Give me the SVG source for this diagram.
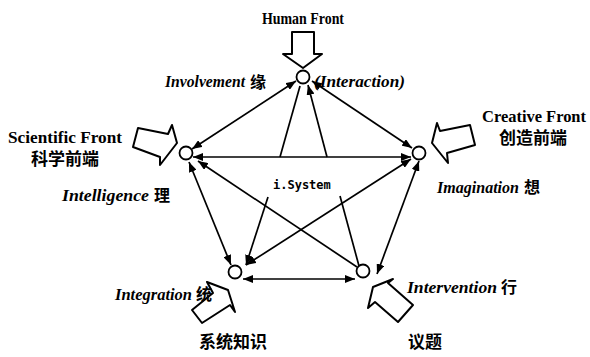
<svg xmlns="http://www.w3.org/2000/svg" width="590" height="357" viewBox="0 0 590 357">
<style>
.bg{fill:#fff}
.lat{font-family:"Liberation Serif",serif;font-weight:bold;font-size:16px;fill:#000}
.it{font-style:italic;font-size:16px}
.cjk{font-family:"Noto Sans CJK SC",sans-serif;font-weight:bold;font-size:16px;fill:#000}
.cjkb{font-family:"Noto Sans CJK SC",sans-serif;font-weight:bold;font-size:17px;fill:#000}
.mono{font-family:"DejaVu Sans Mono",monospace;font-weight:bold;font-size:12px;fill:#000}
.node{fill:#fff;stroke:#000;stroke-width:1.8}
.big{fill:#fff;stroke:#000;stroke-width:2;stroke-linejoin:round}
.e{stroke:#000;stroke-width:1.7;fill:none}
</style>
<defs>
<marker id="ah" viewBox="0 0 10 8" refX="10" refY="4" markerWidth="10" markerHeight="8" markerUnits="userSpaceOnUse" orient="auto-start-reverse">
<path d="M0,0 L10,4 L0,8 Z" fill="#000"/>
</marker>
</defs>
<rect class="bg" width="590" height="357"/>
<g id="connectors">
<line class="e" x1="192" y1="149" x2="296" y2="81" marker-start="url(#ah)" marker-end="url(#ah)"/>
<line class="e" x1="312" y1="81" x2="412" y2="148" marker-start="url(#ah)" marker-end="url(#ah)"/>
<line class="e" x1="193" y1="157" x2="411" y2="157" marker-start="url(#ah)" marker-end="url(#ah)"/>
<line class="e" x1="280" y1="157" x2="300" y2="86"/>
<line class="e" x1="327" y1="157" x2="308" y2="85" marker-end="url(#ah)"/>
<line class="e" x1="198" y1="161" x2="357" y2="267" marker-start="url(#ah)"/>
<line class="e" x1="411" y1="159" x2="246" y2="265" marker-start="url(#ah)" marker-end="url(#ah)"/>
<line class="e" x1="189" y1="162" x2="231" y2="265" marker-start="url(#ah)" marker-end="url(#ah)"/>
<line class="e" x1="419" y1="161" x2="377" y2="274" marker-start="url(#ah)" marker-end="url(#ah)"/>
<line class="e" x1="243" y1="279" x2="355" y2="279" marker-start="url(#ah)" marker-end="url(#ah)"/>
<line class="e" x1="268" y1="197" x2="246" y2="265" marker-end="url(#ah)"/>
<line class="e" x1="340" y1="196" x2="359" y2="266"/>
</g>
<g id="node-top">
<circle class="node" cx="303" cy="77" r="6.5"/>
<text class="lat" x="262" y="24" textLength="82" lengthAdjust="spacingAndGlyphs">Human Front</text>
<polygon class="big" points="292,32 314,32 314,54 322,54 303,68 283,54 292,54"/>
<text class="lat it" x="165" y="87" textLength="80" lengthAdjust="spacingAndGlyphs">Involvement</text>
<text class="cjk" x="250" y="88">缘</text>
<text class="lat it" x="314" y="87" textLength="91" lengthAdjust="spacingAndGlyphs">(Interaction)</text>
</g>
<g id="node-left">
<circle class="node" cx="186" cy="153" r="6.5"/>
<text class="lat" x="8" y="143" textLength="114" lengthAdjust="spacingAndGlyphs">Scientific Front</text>
<text class="cjkb" x="65" y="165" text-anchor="middle">科学前端</text>
<polygon class="big" points="138,128 168,134 172,125 177,143 160,165 160,157 133,147"/>
<text class="lat it" x="62" y="201" textLength="87" lengthAdjust="spacingAndGlyphs">Intelligence</text>
<text class="cjk" x="154" y="201">理</text>
</g>
<g id="node-right">
<circle class="node" cx="419" cy="153" r="6.5"/>
<text class="lat" x="482" y="122" textLength="104" lengthAdjust="spacingAndGlyphs">Creative Front</text>
<text class="cjkb" x="533" y="144" text-anchor="middle">创造前端</text>
<polygon class="big" points="432,143 437,123 440,131 470,125 475,145 447,153 448,163"/>
<text class="lat it" x="437" y="193" textLength="82" lengthAdjust="spacingAndGlyphs">Imagination</text>
<text class="cjk" x="524" y="193">想</text>
</g>
<g id="node-bottom-left">
<circle class="node" cx="235" cy="272" r="6.5"/>
<polygon class="big" points="207,282 228,290 235,312 230,305 202,323 192,310 213,293"/>
<text class="lat it" x="115" y="300" textLength="77" lengthAdjust="spacingAndGlyphs">Integration</text>
<text class="cjk" x="196" y="300">统</text>
<text class="cjkb" x="233" y="348" text-anchor="middle">系统知识</text>
</g>
<g id="node-bottom-right">
<circle class="node" cx="363" cy="271" r="6.5"/>
<polygon class="big" points="393,279 388,283 413,305 398,322 375,302 368,308 373,287"/>
<text class="lat it" x="407" y="293" textLength="90" lengthAdjust="spacingAndGlyphs">Intervention</text>
<text class="cjk" x="501" y="293">行</text>
<text class="cjkb" x="425" y="348" text-anchor="middle">议题</text>
</g>
<g id="center">
<text class="mono" x="273" y="189">i.System</text>
</g>
</svg>
